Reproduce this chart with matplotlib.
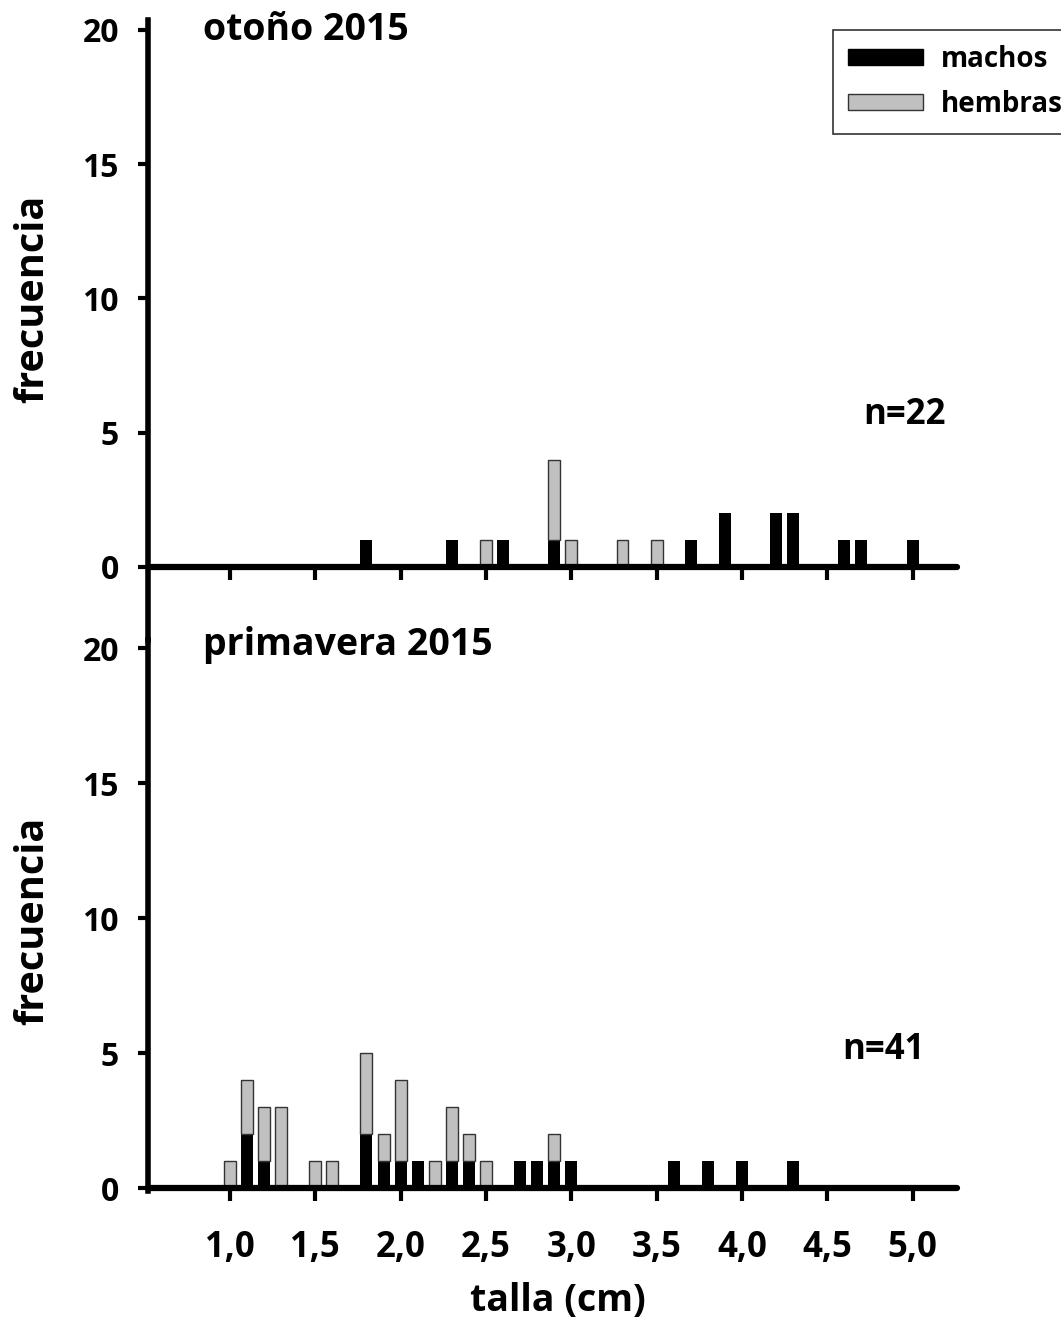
import matplotlib.pyplot as plt
from matplotlib.patches import Patch
import numpy as np

plt.rcParams['font.family'] = ['Open Sans', 'DejaVu Sans']
plt.rcParams['font.weight'] = 'bold'

# otoño 2015
oto_talla = [1.8, 2.3, 2.5, 2.6, 2.9, 3.0, 3.3, 3.5, 3.7, 3.9, 4.2, 4.3, 4.6, 4.7, 5.0]
oto_machos = [1, 1, 0, 1, 1, 0, 0, 0, 1, 2, 2, 2, 1, 1, 1]
oto_hembras = [0, 0, 1, 0, 3, 1, 1, 1, 0, 0, 0, 0, 0, 0, 0]

# primavera 2015
pri_talla = [1.0, 1.1, 1.2, 1.3, 1.5, 1.6, 1.8, 1.9, 2.0, 2.1, 2.2, 2.3, 2.4, 2.5,
             2.7, 2.8, 2.9, 3.0, 3.6, 3.8, 4.0, 4.3]
pri_machos = [0, 2, 1, 0, 0, 0, 2, 1, 1, 1, 0, 1, 1, 0, 1, 1, 1, 1, 1, 1, 1, 1]
pri_hembras = [1, 2, 2, 3, 1, 1, 3, 1, 3, 0, 1, 2, 1, 1, 0, 0, 1, 0, 0, 0, 0, 0]

x_ticks = [1.0, 1.5, 2.0, 2.5, 3.0, 3.5, 4.0, 4.5, 5.0]
y_ticks = [0, 5, 10, 15, 20]

W, H = 1061, 1321
fig = plt.figure(figsize=(W / 100, H / 100), dpi=100)

ax1 = fig.add_axes([148 / W, 1 - 640 / H, 809 / W, 620 / H])
ax2 = fig.add_axes([148 / W, 1 - 1191 / H, 809 / W, 551 / H])


def draw_panel(ax, talla, machos, hembras, ylim, labels):
    talla = np.array(talla)
    machos = np.array(machos)
    hembras = np.array(hembras)
    m = machos > 0
    ax.bar(talla[m], machos[m], width=0.07, color='black', linewidth=0, zorder=2)
    h = hembras > 0
    ax.bar(talla[h], hembras[h], bottom=machos[h], width=0.07, color='#c0c0c0',
           edgecolor='#333333', linewidth=1, zorder=2)
    ax.set_xlim(0.52, 5.26)
    ax.set_ylim(*ylim)
    for s in ['top', 'right']:
        ax.spines[s].set_visible(False)
    ax.spines['bottom'].set_position(('data', 0))
    ax.spines['bottom'].set_linewidth(4.5)
    ax.spines['bottom'].set_capstyle('round')
    ax.spines['left'].set_linewidth(4)
    ax.set_xticks(x_ticks)
    ax.set_yticks(y_ticks)
    ax.tick_params(axis='x', direction='out', length=9, width=3, pad=21,
                   labelsize=25, labelbottom=labels)
    ax.tick_params(axis='y', direction='out', length=7, width=3, pad=14, labelsize=23)
    if labels:
        ax.set_xticklabels([f'{v:.1f}'.replace('.', ',') for v in x_ticks])
    ax.set_ylabel('frecuencia', fontsize=28.5, fontweight='bold')
    ax.set_facecolor('none')


draw_panel(ax1, oto_talla, oto_machos, oto_hembras, (-2.72, 20.37), False)
draw_panel(ax2, pri_talla, pri_machos, pri_hembras, (-0.11, 20.3), True)
ax1.yaxis.set_label_coords(-0.118, 0.55)
ax2.yaxis.set_label_coords(-0.118, 0.49)

fig.text(203 / W, 1 - 30 / H, 'otoño 2015', fontsize=27, fontweight='bold', va='center')
fig.text(203 / W, 1 - 645 / H, 'primavera 2015', fontsize=27, fontweight='bold', va='center')
fig.text(905 / W, 1 - 415 / H, 'n=22', fontsize=25, fontweight='bold', va='center', ha='center')
fig.text(883 / W, 1 - 1050 / H, 'n=41', fontsize=25, fontweight='bold', va='center', ha='center')
fig.text(558 / W, 1 - 1301 / H, 'talla (cm)', fontsize=27, fontweight='bold', va='center', ha='center')

handles = [Patch(facecolor='black', edgecolor='black', label='machos'),
           Patch(facecolor='#c0c0c0', edgecolor='#333333', label='hembras')]
leg = fig.legend(handles=handles, loc='upper left', bbox_to_anchor=(833 / W, 1 - 30 / H),
                 borderaxespad=0, fontsize=20, frameon=True, fancybox=False,
                 edgecolor='black', handlelength=2.7, handleheight=0.5, borderpad=0.55,
                 labelspacing=0.55, handletextpad=0.65)
leg.get_frame().set_linewidth(1.2)

fig.savefig('out.png', dpi=100)
